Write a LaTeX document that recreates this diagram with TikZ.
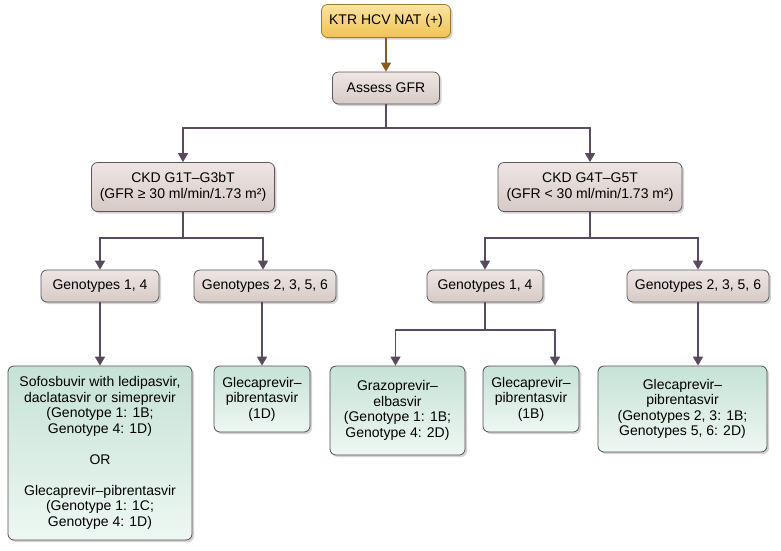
\documentclass[tikz,border=0pt]{standalone}
\usepackage{fontspec}
\setmainfont{Liberation Sans}
\usetikzlibrary{shadows,arrows.meta}
\definecolor{taupeTop}{HTML}{EEE6E3}
\definecolor{taupeBot}{HTML}{D6CAC6}
\definecolor{greenTop}{HTML}{C6E2D6}
\definecolor{greenBot}{HTML}{EEF7F3}
\definecolor{yelTop}{HTML}{FBE3A0}
\definecolor{yelBot}{HTML}{F0C254}
\definecolor{boxline}{HTML}{5E5560}
\definecolor{arrowcol}{HTML}{594A5E}
\definecolor{brownline}{HTML}{A07A35}
\definecolor{brownarrow}{HTML}{8A5A1E}
\tikzset{
  x=1pt, y=-1pt,
  base/.style={rounded corners=6pt, draw=boxline, line width=0.8pt, align=center,
     font=\fontsize{14}{15.5}\selectfont, inner sep=0pt,
     drop shadow={shadow xshift=2pt, shadow yshift=-2pt, opacity=0.35}},
  taupe/.style={base, top color=taupeTop, bottom color=taupeBot},
  greenbox/.style={base, top color=greenTop, bottom color=greenBot, draw=boxline!90!black},
  yelbox/.style={base, top color=yelTop, bottom color=yelBot, draw=brownline},
  conn/.style={draw=arrowcol, line width=1.5pt},
  arr/.style={conn, -{Triangle[length=9pt,width=10pt]}},
}
\begin{document}
\begin{tikzpicture}
\useasboundingbox (0,0) rectangle (781,550);
\node[yelbox, minimum width=129pt, minimum height=33pt] (ktr) at (386,21) {KTR HCV NAT (+)};
\node[taupe, minimum width=107pt, minimum height=32pt] (gfr) at (386,88) {Assess GFR};
\node[taupe, minimum width=183pt, minimum height=49pt] (ckdL) at (183,187) {CKD G1T–G3bT\\(GFR ≥ 30 ml/min/1.73 m²)};
\node[taupe, minimum width=184pt, minimum height=49pt] (ckdR) at (590,187) {CKD G4T–G5T\\(GFR < 30 ml/min/1.73 m²)};
\node[taupe, minimum width=118pt, minimum height=32pt] (gL14) at (100,286) {Genotypes 1, 4};
\node[taupe, minimum width=142pt, minimum height=32pt] (gL2356) at (265,286) {Genotypes 2, 3, 5, 6};
\node[taupe, minimum width=116pt, minimum height=32pt] (gR14) at (485,286) {Genotypes 1, 4};
\node[taupe, minimum width=142pt, minimum height=32pt] (gR2356) at (698,286) {Genotypes 2, 3, 5, 6};
\node[greenbox, minimum width=184pt, minimum height=174pt] (sofo) at (100,453) {Sofosbuvir with ledipasvir,\\daclatasvir or simeprevir\\(Genotype 1: 1B;\\Genotype 4: 1D)\\[15.5pt]OR\\[15.5pt]Glecaprevir–pibrentasvir\\(Genotype 1: 1C;\\Genotype 4: 1D)};
\node[greenbox, minimum width=96pt, minimum height=66pt] (gle1) at (262,399) {Glecaprevir–\\pibrentasvir\\(1D)};
\node[greenbox, minimum width=135pt, minimum height=89pt] (graz) at (397.5,410.5) {Grazoprevir–\\elbasvir\\(Genotype 1: 1B;\\Genotype 4: 2D)};
\node[greenbox, minimum width=96pt, minimum height=66pt] (gle2) at (531,399) {Glecaprevir–\\pibrentasvir\\(1B)};
\node[greenbox, minimum width=169pt, minimum height=86pt] (gle3) at (682.5,409) {Glecaprevir–\\pibrentasvir\\(Genotypes 2, 3: 1B;\\Genotypes 5, 6: 2D)};
\draw[draw=brownarrow, line width=1.5pt, -{Triangle[length=9pt,width=10pt]}] (ktr) -- (gfr);
\coordinate (j1) at (386,128);
\draw[conn] (gfr) -- (j1);
\draw[arr] (j1) -| (ckdL);
\draw[arr] (j1) -| (ckdR);
\coordinate (j2) at (183,238);
\draw[conn] (ckdL) -- (j2);
\draw[arr] (j2) -| (gL14);
\draw[arr] (j2) -| ([xshift=-2pt]gL2356.north);
\coordinate (j3) at (590,238);
\draw[conn] (ckdR) -- (j3);
\draw[arr] (j3) -| (gR14);
\draw[arr] (j3) -| (gR2356.north);
\draw[arr] (gL14) -- (sofo);
\draw[arr] (gle1.north |- gL2356.south) -- (gle1);
\coordinate (j4) at (485,330);
\draw[conn] (gR14) -- (j4);
\draw[arr] (j4) -| ([xshift=-2pt]graz.north);
\draw[arr] (j4) -| ([xshift=24pt]gle2.north);
\draw[arr] (gR2356.south) -- (gR2356.south |- gle3.north);
\end{tikzpicture}
\end{document}
